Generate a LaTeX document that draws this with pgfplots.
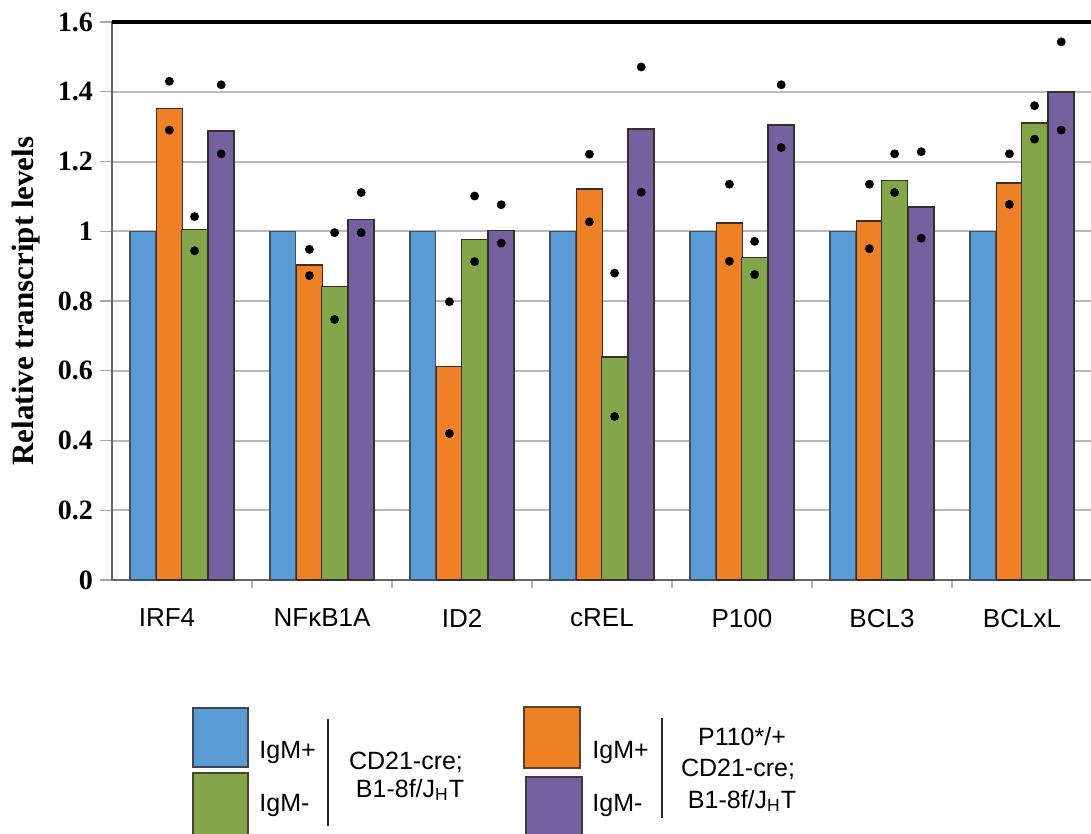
\documentclass[border=0pt]{standalone}
\usepackage{pgfplots}
\pgfplotsset{compat=1.18}
\usepackage{fontspec}
\setmainfont{Liberation Serif}
\newfontfamily\arial{Liberation Sans}
\definecolor{cblue}{HTML}{5B9BD5}
\definecolor{corange}{HTML}{EE8126}
\definecolor{cgreen}{HTML}{84A64A}
\definecolor{cpurple}{HTML}{7561A0}
\definecolor{edge}{HTML}{3A2E28}
\begin{document}
\begin{tikzpicture}
\path[use as bounding box] (0pt,0pt) rectangle (545.5pt,-417pt);
\begin{axis}[
  at={(56pt,-290pt)}, anchor=south west,
  scale only axis, width=490pt, height=279pt,
  xmin=-0.5, xmax=6.5, ymin=0, ymax=1.6,
  xtick={0,1,2,3,4,5,6},
  xticklabels={IRF4\hspace*{15pt},NFκB1A,ID2,cREL,P100,BCL3,BCLxL},
  xticklabel style={font=\arial\fontsize{13}{13}\selectfont, yshift=-5pt},
  major x tick style={draw=none},
  minor xtick={0.5,1.5,2.5,3.5,4.5,5.5},
  minor x tick style={gray!60, line width=0.6pt},
  minor tick length=4pt,
  ytick={0,0.2,0.4,0.6,0.8,1,1.2,1.4,1.6},
  yticklabels={0,0.2,0.4,0.6,0.8,1,1.2,1.4,1.6},
  yticklabel style={font=\bfseries\fontsize{14}{14}\selectfont},
  y tick style={gray!70, line width=0.7pt},
  major tick length=6pt,
  tick align=outside,
  xtick pos=bottom, ytick pos=left,
  ymajorgrids,
  major grid style={gray!55, line width=1pt},
  axis line style={draw=gray!80!black, line width=0.8pt},
  ylabel={Relative transcript levels},
  every axis y label/.style={at={(rel axis cs:0,0.5)}, xshift=-43pt, rotate=90, anchor=center, font=\bfseries\fontsize{15.5}{15.5}\selectfont},
  /pgf/number format/assume math mode=true,
  bar width=0.185,
  clip=false,
]
\addplot[ybar, bar shift=-0.28, fill=cblue, draw=edge!70!cblue, line width=0.7pt] coordinates {(0,1) (1,1) (2,1) (3,1) (4,1) (5,1) (6,1)};
\addplot[ybar, bar shift=-0.09, fill=corange, draw=edge, line width=0.8pt] coordinates {(0,1.352) (1,0.904) (2,0.612) (3,1.122) (4,1.023) (5,1.029) (6,1.138)};
\addplot[ybar, bar shift=0.09, fill=cgreen, draw=edge, line width=0.8pt] coordinates {(0,1.005) (1,0.842) (2,0.976) (3,0.639) (4,0.925) (5,1.146) (6,1.31)};
\addplot[ybar, bar shift=0.28, fill=cpurple, draw=edge, line width=0.8pt] coordinates {(0,1.288) (1,1.034) (2,1.002) (3,1.293) (4,1.304) (5,1.07) (6,1.40)};
% individual values
\addplot[only marks, mark=*, mark size=2pt, black] coordinates {
 (-0.09,1.43) (-0.09,1.29) (0.91,0.948) (0.91,0.873) (1.91,0.798) (1.91,0.42)
 (2.91,1.221) (2.91,1.027) (3.91,1.135) (3.91,0.914) (4.91,1.135) (4.91,0.95)
 (5.91,1.222) (5.91,1.077)};
\addplot[only marks, mark=*, mark size=2pt, black] coordinates {
 (0.09,1.042) (0.09,0.944) (1.09,0.996) (1.09,0.747) (2.09,1.101) (2.09,0.913)
 (3.09,0.88) (3.09,0.469) (4.09,0.971) (4.09,0.876) (5.09,1.222) (5.09,1.111)
 (6.09,1.36) (6.09,1.264)};
\addplot[only marks, mark=*, mark size=2pt, black] coordinates {
 (0.28,1.42) (0.28,1.222) (1.28,1.111) (1.28,0.996) (2.28,1.076) (2.28,0.966)
 (3.28,1.471) (3.28,1.112) (4.28,1.42) (4.28,1.24) (5.28,1.228) (5.28,0.98)
 (6.28,1.543) (6.28,1.29)};
\draw[black, line width=1.6pt] (rel axis cs:0,1) -- (rel axis cs:1,1);
\end{axis}
% legend
\begin{scope}[font=\arial\fontsize{12.5}{13}\selectfont]
\filldraw[fill=cblue, draw=edge!80!cblue, line width=0.9pt] (96.5pt,-354pt) rectangle (124pt,-383.5pt);
\filldraw[fill=cgreen, draw=edge!80!cgreen, line width=0.9pt] (96.5pt,-386.5pt) rectangle (124pt,-422pt);
\filldraw[fill=corange, draw=edge!80!corange, line width=0.9pt] (262pt,-353.5pt) rectangle (290pt,-384pt);
\filldraw[fill=cpurple, draw=edge!80!cpurple, line width=0.9pt] (263pt,-388.5pt) rectangle (291pt,-422pt);
\node[anchor=west, inner sep=0pt] at (129.5pt,-376pt) {IgM+};
\node[anchor=west, inner sep=0pt] at (129.5pt,-402.5pt) {IgM-};
\node[anchor=west, inner sep=0pt] at (296pt,-376pt) {IgM+};
\node[anchor=west, inner sep=0pt] at (296pt,-402.5pt) {IgM-};
\draw[line width=1pt, black!85] (164pt,-359.5pt) -- (164pt,-413pt);
\draw[line width=1pt, black!85] (331pt,-359pt) -- (331pt,-409pt);
\node[inner sep=0pt] at (203pt,-381pt) {CD21-cre;};
\node[inner sep=0pt] at (205pt,-395pt) {B1-8f/J\textsubscript{H}T};
\node[inner sep=0pt] at (371pt,-368.5pt) {P110*/+};
\node[inner sep=0pt] at (369pt,-384.5pt) {CD21-cre;};
\node[inner sep=0pt] at (371pt,-400.5pt) {B1-8f/J\textsubscript{H}T};
\end{scope}
\end{tikzpicture}
\end{document}
